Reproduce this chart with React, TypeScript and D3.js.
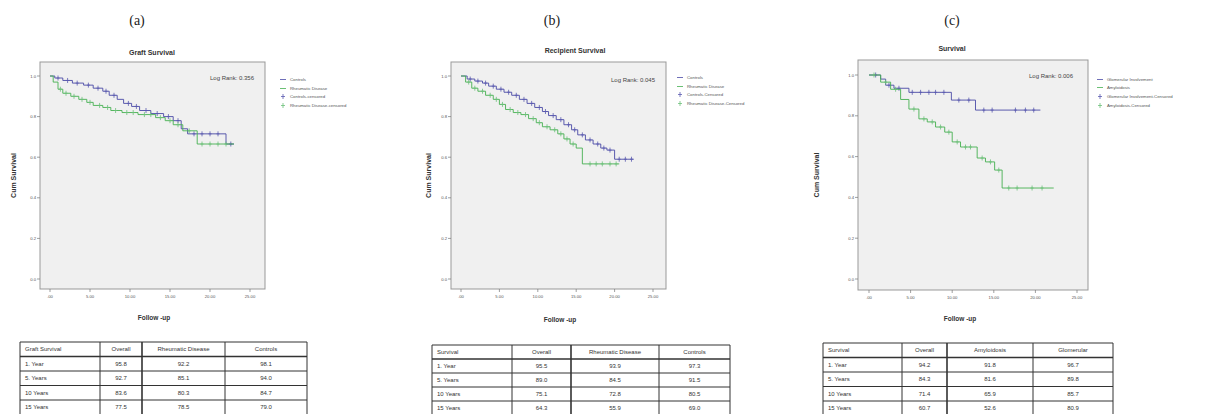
import React from 'react';
import * as d3 from 'd3';

type Step = { t: number; s: number };

// ---------- Panel (a) Graft Survival ----------
const graftControlsSteps: Step[] = [
  { t: 0, s: 1.0 }, { t: 0.6, s: 0.99 }, { t: 1.6, s: 0.978 }, { t: 2.8, s: 0.965 },
  { t: 4.2, s: 0.955 }, { t: 5.4, s: 0.94 }, { t: 6.6, s: 0.925 }, { t: 7.4, s: 0.905 },
  { t: 8.4, s: 0.885 }, { t: 9.2, s: 0.865 }, { t: 10.2, s: 0.85 }, { t: 11.2, s: 0.83 },
  { t: 12.6, s: 0.815 }, { t: 14.2, s: 0.8 }, { t: 15.4, s: 0.78 }, { t: 16.4, s: 0.74 },
  { t: 17.2, s: 0.715 }, { t: 22.0, s: 0.665 },
];
const graftControlsEnd = 23;
const graftControlsCensor = [1.0, 2.2, 3.4, 4.8, 6.0, 7.0, 8.0, 9.8, 10.8, 12.0, 13.4, 14.8, 16.0, 18.0, 19.0, 20.0, 21.0, 22.6];

const graftRheumSteps: Step[] = [
  { t: 0, s: 1.0 }, { t: 0.4, s: 0.97 }, { t: 1.0, s: 0.935 }, { t: 1.6, s: 0.915 },
  { t: 2.6, s: 0.9 }, { t: 3.6, s: 0.885 }, { t: 4.6, s: 0.87 }, { t: 5.4, s: 0.855 },
  { t: 6.6, s: 0.845 }, { t: 7.6, s: 0.83 }, { t: 9.0, s: 0.82 }, { t: 11.0, s: 0.81 },
  { t: 13.2, s: 0.795 }, { t: 14.4, s: 0.78 }, { t: 15.4, s: 0.76 }, { t: 16.6, s: 0.73 },
  { t: 18.4, s: 0.665 },
];
const graftRheumEnd = 23;
const graftRheumCensor = [1.3, 2.0, 3.0, 4.0, 5.0, 6.2, 7.2, 8.2, 9.6, 10.4, 11.8, 12.6, 13.8, 15.0, 16.0, 17.4, 19.0, 20.0, 21.0, 22.0];

// ---------- Panel (b) Recipient Survival ----------
const recipControlsSteps: Step[] = [
  { t: 0, s: 1.0 }, { t: 0.8, s: 0.985 }, { t: 1.8, s: 0.975 }, { t: 2.8, s: 0.965 },
  { t: 3.6, s: 0.95 }, { t: 4.6, s: 0.935 }, { t: 5.6, s: 0.92 }, { t: 6.6, s: 0.905 },
  { t: 7.6, s: 0.885 }, { t: 8.6, s: 0.865 }, { t: 9.6, s: 0.845 }, { t: 10.6, s: 0.825 },
  { t: 11.4, s: 0.805 }, { t: 12.4, s: 0.785 }, { t: 13.4, s: 0.76 }, { t: 14.4, s: 0.735 },
  { t: 15.2, s: 0.71 }, { t: 16.2, s: 0.685 }, { t: 17.2, s: 0.665 }, { t: 18.2, s: 0.645 },
  { t: 19.0, s: 0.635 }, { t: 20.0, s: 0.59 },
];
const recipControlsEnd = 22.5;
const recipControlsCensor = [1.2, 2.2, 3.2, 4.2, 5.2, 6.2, 7.2, 8.2, 9.2, 10.2, 11.0, 12.0, 13.0, 14.0, 14.8, 15.8, 16.8, 17.8, 18.6, 19.4, 20.6, 21.4, 22.2];

const recipRheumSteps: Step[] = [
  { t: 0, s: 1.0 }, { t: 0.6, s: 0.97 }, { t: 1.4, s: 0.94 }, { t: 2.2, s: 0.925 },
  { t: 3.2, s: 0.905 }, { t: 4.2, s: 0.885 }, { t: 5.0, s: 0.86 }, { t: 5.8, s: 0.835 },
  { t: 6.8, s: 0.82 }, { t: 7.8, s: 0.81 }, { t: 8.8, s: 0.79 }, { t: 9.8, s: 0.77 },
  { t: 10.6, s: 0.75 }, { t: 11.6, s: 0.735 }, { t: 12.6, s: 0.715 }, { t: 13.4, s: 0.69 },
  { t: 14.2, s: 0.665 }, { t: 15.0, s: 0.645 }, { t: 15.8, s: 0.567 },
];
const recipRheumEnd = 20.6;
const recipRheumCensor = [1.0, 1.8, 2.8, 3.8, 4.6, 5.4, 6.4, 7.4, 8.4, 9.4, 10.2, 11.2, 12.2, 13.0, 13.8, 14.6, 16.8, 17.6, 18.4, 19.4, 20.2];

// ---------- Panel (c) Survival ----------
const glomSteps: Step[] = [
  { t: 0, s: 1.0 }, { t: 1.4, s: 0.98 }, { t: 2.0, s: 0.95 }, { t: 3.0, s: 0.935 },
  { t: 4.8, s: 0.915 }, { t: 9.9, s: 0.877 }, { t: 12.8, s: 0.828 },
];
const glomEnd = 20.6;
const glomCensor = [0.8, 2.4, 3.6, 5.2, 6.2, 7.2, 8.0, 9.0, 10.8, 12.0, 13.8, 14.8, 17.6, 18.8, 19.8];

const amyloidSteps: Step[] = [
  { t: 0, s: 1.0 }, { t: 1.4, s: 0.965 }, { t: 2.6, s: 0.93 }, { t: 3.8, s: 0.88 },
  { t: 4.8, s: 0.833 }, { t: 6.0, s: 0.785 }, { t: 7.0, s: 0.77 }, { t: 8.0, s: 0.745 },
  { t: 9.1, s: 0.72 }, { t: 10.0, s: 0.672 }, { t: 11.0, s: 0.647 }, { t: 13.0, s: 0.593 },
  { t: 14.0, s: 0.574 }, { t: 15.1, s: 0.534 }, { t: 16.0, s: 0.446 },
];
const amyloidEnd = 22.2;
const amyloidCensor = [0.6, 2.0, 3.2, 5.4, 6.6, 7.6, 8.6, 9.6, 10.6, 11.6, 12.2, 13.6, 14.6, 15.6, 16.8, 17.8, 19.6, 20.8];

// ---------- Axis ticks ----------
const yTicks = [0, 0.2, 0.4, 0.6, 0.8, 1.0];
const yTickLabels = ['0.0', '0.2', '0.4', '0.6', '0.8', '1.0'];
const xTicks = [0, 5, 10, 15, 20, 25];
const xTickLabels = ['.00', '5.00', '10.00', '15.00', '20.00', '25.00'];

// ---------- Tables ----------
const rowLabels = ['1. Year', '5. Years', '10 Years', '15 Years'];
const tableAHeader = ['Graft Survival', 'Overall', 'Rheumatic Disease', 'Controls'];
const tableAOverall = [95.8, 92.7, 83.6, 77.5];
const tableARheum = [92.2, 85.1, 80.3, 78.5];
const tableAControls = [98.1, 94.0, 84.7, 79.0];

const tableBHeader = ['Survival', 'Overall', 'Rheumatic Disease', 'Controls'];
const tableBOverall = [95.5, 89.0, 75.1, 64.3];
const tableBRheum = [93.9, 84.5, 72.8, 55.9];
const tableBControls = [97.3, 91.5, 80.5, 69.0];

const tableCHeader = ['Survival', 'Overall', 'Amyloidosis', 'Glomerular'];
const tableCOverall = [94.2, 84.3, 71.4, 60.7];
const tableCAmyloid = [91.8, 81.6, 65.9, 52.6];
const tableCGlom = [96.7, 89.8, 85.7, 80.9];

const BLUE = '#4a4aa6';
const GREEN = '#45b050';
const BLUE_C = '#5a5ab0';
const GREEN_C = '#6cc07a';
const SANS = '"Liberation Sans", Arial, sans-serif';
const SERIF = '"Liberation Serif", "Times New Roman", serif';

type Series = { steps: Step[]; end: number; censor: number[]; color: string; ccolor: string };

type PanelProps = {
  letter: string; letterX: number;
  title: string; titleX: number; titleY: number;
  left: number; top: number; right: number; bottom: number;
  x0: number; x25: number; y0: number; y1: number;
  series: Series[];
  logRank: string; logRankX: number; logRankY: number;
  legend: { label: string; kind: 'line' | 'cross'; color: string }[];
  legendX: number; legendY: number[];
  yLabelX: number; followX: number; followY: number;
};

function survAt(steps: Step[], t: number) {
  let s = steps[0].s;
  for (const st of steps) if (st.t <= t) s = st.s;
  return s;
}

function Panel(p: PanelProps) {
  const x = d3.scaleLinear().domain([0, 25]).range([p.x0, p.x25]);
  const y = d3.scaleLinear().domain([0, 1]).range([p.y0, p.y1]);
  const line = d3.line<Step>().x(d => x(d.t)).y(d => y(d.s)).curve(d3.curveStepAfter);
  return (
    <g>
      <text x={p.letterX} y={25} fontFamily={SERIF} fontSize={14} textAnchor="middle" fill="#222">{p.letter}</text>
      <text x={p.titleX} y={p.titleY} fontFamily={SANS} fontSize={7} fontWeight="bold" textAnchor="middle" fill="#333">{p.title}</text>
      <rect x={p.left} y={p.top} width={p.right - p.left} height={p.bottom - p.top} fill="#f0f0f0" stroke="#999" strokeWidth={1} />
      {yTicks.map((v, i) => (
        <g key={'y' + i}>
          <line x1={p.left - 3} x2={p.left} y1={y(v)} y2={y(v)} stroke="#777" strokeWidth={0.7} />
          <text x={p.left - 4} y={y(v) + 1.5} fontFamily={SANS} fontSize={4.2} textAnchor="end" fill="#555">{yTickLabels[i]}</text>
        </g>
      ))}
      {xTicks.map((v, i) => (
        <g key={'x' + i}>
          <line x1={x(v)} x2={x(v)} y1={p.bottom} y2={p.bottom + 3} stroke="#777" strokeWidth={0.7} />
          <text x={x(v)} y={p.bottom + 9} fontFamily={SANS} fontSize={4.2} textAnchor="middle" fill="#555">{xTickLabels[i]}</text>
        </g>
      ))}
      <text transform={`translate(${p.yLabelX},${(p.top + p.bottom) / 2}) rotate(-90)`} fontFamily={SANS} fontSize={7} fontWeight="bold" textAnchor="middle" fill="#333">Cum Survival</text>
      <text x={p.followX} y={p.followY} fontFamily={SANS} fontSize={6.5} fontWeight="bold" textAnchor="middle" fill="#333">Follow -up</text>
      <text x={p.logRankX} y={p.logRankY} fontFamily={SANS} fontSize={6} textAnchor="end" fill="#444">{p.logRank}</text>
      {p.series.map((s, i) => {
        const pts = [...s.steps, { t: s.end, s: s.steps[s.steps.length - 1].s }];
        return (
          <g key={'s' + i}>
            <path d={line(pts) || ''} fill="none" stroke={s.color} strokeWidth={0.9} />
            {s.censor.map((c, j) => {
              const cx = x(c), cy = y(survAt(s.steps, c));
              return (
                <g key={j}>
                  <line x1={cx} x2={cx} y1={cy - 2.5} y2={cy + 2.5} stroke={s.ccolor} strokeWidth={0.8} />
                  <line x1={cx - 1.5} x2={cx + 1.5} y1={cy} y2={cy} stroke={s.ccolor} strokeWidth={0.8} />
                </g>
              );
            })}
          </g>
        );
      })}
      {p.legend.map((l, i) => (
        <g key={'l' + i}>
          {l.kind === 'line' ? (
            <line x1={p.legendX - 4} x2={p.legendX + 2} y1={p.legendY[i] - 1.5} y2={p.legendY[i] - 1.5} stroke={l.color} strokeWidth={0.8} />
          ) : (
            <g>
              <line x1={p.legendX - 1} x2={p.legendX - 1} y1={p.legendY[i] - 4} y2={p.legendY[i] + 1} stroke={l.color} strokeWidth={0.8} />
              <line x1={p.legendX - 3} x2={p.legendX + 1} y1={p.legendY[i] - 1.5} y2={p.legendY[i] - 1.5} stroke={l.color} strokeWidth={0.8} />
            </g>
          )}
          <text x={p.legendX + 6} y={p.legendY[i]} fontFamily={SANS} fontSize={4.3} fill="#555">{l.label}</text>
        </g>
      ))}
    </g>
  );
}

type TableProps = { cols: number[]; top: number; rowH: number; header: string[]; c1: number[]; c2: number[]; c3: number[] };

function Table(t: TableProps) {
  const nRows = rowLabels.length + 1;
  const bottom = t.top + t.rowH * nRows;
  const rows = [t.header, ...rowLabels.map((r, i) => [r, t.c1[i].toFixed(1), t.c2[i].toFixed(1), t.c3[i].toFixed(1)])];
  return (
    <g>
      {d3.range(nRows + 1).map(i => (
        <line key={'h' + i} x1={t.cols[0]} x2={t.cols[4]} y1={t.top + i * t.rowH} y2={t.top + i * t.rowH} stroke="#333" strokeWidth={i === 1 ? 1.4 : 1} />
      ))}
      {t.cols.map((c, i) => (
        <line key={'v' + i} x1={c} x2={c} y1={t.top} y2={bottom} stroke="#333" strokeWidth={i === 2 ? 1.6 : 1} />
      ))}
      {rows.map((r, ri) => r.map((cell, ci) => {
        const yy = t.top + ri * t.rowH + t.rowH / 2 + 2;
        const xx = ci === 0 ? t.cols[0] + 5 : (t.cols[ci] + t.cols[ci + 1]) / 2;
        return (
          <text key={ri + '-' + ci} x={xx} y={yy} fontFamily={SANS} fontSize={6} textAnchor={ci === 0 ? 'start' : 'middle'} fill="#333">{cell}</text>
        );
      }))}
    </g>
  );
}

export default function App() {
  return (
    <svg width={1207} height={414} style={{ position: 'absolute', left: 0, top: 0, background: '#fff' }}>
      <Panel
        letter="(a)" letterX={137}
        title="Graft Survival" titleX={152} titleY={55}
        left={40} top={62} right={265} bottom={289}
        x0={50} x25={250} y0={279} y1={76}
        series={[
          { steps: graftControlsSteps, end: graftControlsEnd, censor: graftControlsCensor, color: BLUE, ccolor: BLUE_C },
          { steps: graftRheumSteps, end: graftRheumEnd, censor: graftRheumCensor, color: GREEN, ccolor: GREEN_C },
        ]}
        logRank="Log Rank: 0.356" logRankX={254} logRankY={80}
        legend={[
          { label: 'Controls', kind: 'line', color: BLUE },
          { label: 'Rheumatic Disease', kind: 'line', color: GREEN },
          { label: 'Controls-censored', kind: 'cross', color: BLUE_C },
          { label: 'Rheumatic Disease-censored', kind: 'cross', color: GREEN_C },
        ]}
        legendX={284} legendY={[81, 90, 98, 107]}
        yLabelX={16} followX={154} followY={320}
      />
      <Panel
        letter="(b)" letterX={552}
        title="Recipient Survival" titleX={575} titleY={53}
        left={451} top={62} right={666} bottom={289}
        x0={461} x25={653} y0={279} y1={76}
        series={[
          { steps: recipControlsSteps, end: recipControlsEnd, censor: recipControlsCensor, color: BLUE, ccolor: BLUE_C },
          { steps: recipRheumSteps, end: recipRheumEnd, censor: recipRheumCensor, color: GREEN, ccolor: GREEN_C },
        ]}
        logRank="Log Rank: 0.045" logRankX={655} logRankY={82}
        legend={[
          { label: 'Controls', kind: 'line', color: BLUE },
          { label: 'Rheumatic Disease', kind: 'line', color: GREEN },
          { label: 'Controls-Censored', kind: 'cross', color: BLUE_C },
          { label: 'Rheumatic Disease-Censored', kind: 'cross', color: GREEN_C },
        ]}
        legendX={681} legendY={[79, 88, 96, 105]}
        yLabelX={431} followX={560} followY={322}
      />
      <Panel
        letter="(c)" letterX={952}
        title="Survival" titleX={952} titleY={51}
        left={858} top={60} right={1088} bottom={290}
        x0={869} x25={1077} y0={279} y1={75}
        series={[
          { steps: glomSteps, end: glomEnd, censor: glomCensor, color: BLUE, ccolor: BLUE_C },
          { steps: amyloidSteps, end: amyloidEnd, censor: amyloidCensor, color: GREEN, ccolor: GREEN_C },
        ]}
        logRank="Log Rank: 0.006" logRankX={1073} logRankY={78}
        legend={[
          { label: 'Glomerular Involvement', kind: 'line', color: BLUE },
          { label: 'Amyloidosis', kind: 'line', color: GREEN },
          { label: 'Glomerular Involvement-Censored', kind: 'cross', color: BLUE_C },
          { label: 'Amyloidosis-Censored', kind: 'cross', color: GREEN_C },
        ]}
        legendX={1101} legendY={[81, 89, 98, 107]}
        yLabelX={819} followX={960} followY={321}
      />
      <Table cols={[20, 100, 142, 225, 307]} top={342} rowH={14.5} header={tableAHeader} c1={tableAOverall} c2={tableARheum} c3={tableAControls} />
      <Table cols={[432, 512, 571, 659, 730]} top={345} rowH={14} header={tableBHeader} c1={tableBOverall} c2={tableBRheum} c3={tableBControls} />
      <Table cols={[823, 902, 947, 1033, 1113]} top={343} rowH={14.5} header={tableCHeader} c1={tableCOverall} c2={tableCAmyloid} c3={tableCGlom} />
    </svg>
  );
}
